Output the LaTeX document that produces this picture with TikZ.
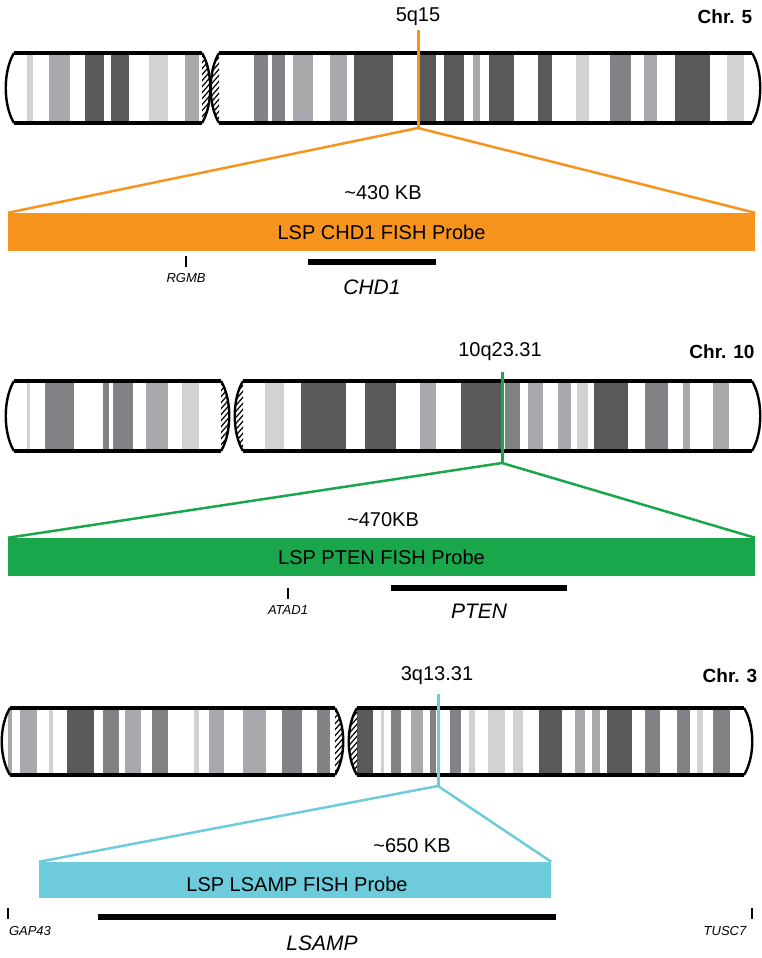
\documentclass[tikz,border=0pt]{standalone}
\usepackage{fontspec}
\setmainfont{Liberation Sans}
\definecolor{L}{HTML}{D1D2D4}
\definecolor{M}{HTML}{A7A9AC}
\definecolor{G}{HTML}{808285}
\definecolor{D}{HTML}{58595B}
\definecolor{orn}{HTML}{F7941D}
\definecolor{grn}{HTML}{1AA64A}
\definecolor{cyn}{HTML}{6DCBDC}
\newcommand\myhatch[3]{% top bot x
  \begin{scope}
  \clip (#3,#1) .. controls (#3+11,#1+18) and (#3+11,#2-18) .. (#3,#2) .. controls (#3-11,#2-18) and (#3-11,#1+18) .. (#3,#1);
  \foreach \k in {-60,-54,...,90} \draw[line width=1.2pt] (#3-10,#1+\k) -- (#3+10,#1+\k-20);
  \end{scope}}
\newcommand\myarm[5]{% top bot xa xb hatchside(0 none,1 right,2 left)
  \ifnum#5=1
    \begin{scope}\clip (#4,#1) .. controls (#4+11,#1+18) and (#4+11,#2-18) .. (#4,#2) -- cycle;
    \foreach \k in {-30,-24,...,90} \draw[line width=1.2pt] (#4-2,#1+\k) -- (#4+12,#1+\k-16);\end{scope}
  \fi
  \ifnum#5=2
    \begin{scope}\clip (#3,#1) .. controls (#3-11,#1+18) and (#3-11,#2-18) .. (#3,#2) -- cycle;
    \foreach \k in {-30,-24,...,90} \draw[line width=1.2pt] (#3-12,#1+\k) -- (#3+2,#1+\k-16);\end{scope}
  \fi
  \draw[line width=3.2pt] (#3,#1) -- (#4,#1) (#3,#2) -- (#4,#2);
  \draw[line width=2.4pt] (#3,#1) .. controls (#3-11,#1+18) and (#3-11,#2-18) .. (#3,#2);
  \draw[line width=2.4pt] (#4,#1) .. controls (#4+11,#1+18) and (#4+11,#2-18) .. (#4,#2);
}
\tikzset{lab/.style={font=\fontsize{20}{22}\selectfont,inner sep=0},
  chr/.style={font=\bfseries\fontsize{19}{21}\selectfont,inner sep=0},
  small/.style={font=\itshape\fontsize{13}{15}\selectfont,inner sep=0},
  gene/.style={font=\itshape\fontsize{21}{22}\selectfont,inner sep=0},
  bar/.style={line width=6pt},
  tick/.style={line width=1.2pt}}
\begin{document}
\begin{tikzpicture}[x=1pt,y=-1pt]
\useasboundingbox (0,0) rectangle (761,958);
% ---------- Chr 5
\foreach \a/\b/\c in {27/33/L,49/70/M,85/104/D,111/129/D,149/168/L,185/199/M,
 254/268/G,272/285/G,293/313/M,330/347/M,354/393/D,419/436/D,444/464/D,473/480/M,489/514/D,538/552/D,576/589/L,610/631/G,644/657/M,675/710/D,727/744/L}
 \fill[\c] (\a,53) rectangle (\b,123);
\myarm{53}{123}{14}{202}{1}
\myarm{53}{123}{219}{752}{2}
\node[lab] (l5) at (418,17) {5q15};
\node[chr] (c5) at (725,17) {Chr. 5};
\coordinate (t5) at (418,30); \coordinate (b5) at (418,128);
\node[fill=orn,minimum width=747pt,minimum height=38pt,inner sep=0] (p5) at (381.5,232) {};
\node[lab] at (p5) {LSP CHD1 FISH Probe};
\draw[orn,line width=3pt] (t5) -- (b5);
\draw[orn,line width=2.5pt] (p5.north west) -- (b5) -- (p5.north east);
\node[lab] (k5) at (383,193) {\char`~430 KB};
\coordinate (r5a) at (186,256); \coordinate (r5b) at (186,267);
\draw[tick] (r5a) -- (r5b);
\node[small] (rg) at (186,278) {RGMB};
\coordinate (h5a) at (308,262); \coordinate (h5b) at (436,262);
\draw[bar] (h5a) -- (h5b);
\node[gene] (chd) at (372,287) {CHD1};
% ---------- Chr 10
\foreach \a/\b/\c in {27/30/L,45/74/G,103/109/G,113/133/G,146/168/M,182/199/L,
 265/284/L,301/346/D,365/396/D,420/436/M,461/501/D,505/520/G,528/543/M,558/571/M,577/588/L,594/628/D,645/668/G,683/690/M,713/729/M}
 \fill[\c] (\a,381) rectangle (\b,451);
\myarm{381}{451}{14}{221}{1}
\myarm{381}{451}{243}{752}{2}
\node[lab] (l10) at (500,352) {10q23.31};
\node[chr] (c10) at (722,352) {Chr. 10};
\coordinate (t10) at (502,372); \coordinate (b10) at (502,463);
\node[fill=grn,minimum width=747pt,minimum height=38pt,inner sep=0] (p10) at (381.5,557) {};
\node[lab] at (p10) {LSP PTEN FISH Probe};
\draw[grn,line width=3pt] (t10) -- (b10);
\draw[grn,line width=2.5pt] (p10.north west) -- (b10) -- (p10.north east);
\node[lab] (k10) at (383,520) {\char`~470KB};
\coordinate (r10a) at (288,588); \coordinate (r10b) at (288,599);
\draw[tick] (r10a) -- (r10b);
\node[small] (at) at (288,610) {ATAD1};
\coordinate (h10a) at (391,588); \coordinate (h10b) at (567,588);
\draw[bar] (h10a) -- (h10b);
\node[gene] (pten) at (479,611) {PTEN};
% ---------- Chr 3
\foreach \a/\b/\c in {8/12/M,20/37/M,49/53/L,67/94/D,103/119/G,125/141/M,152/168/G,194/199/L,209/224/M,243/266/M,282/302/G,317/330/G,
 357/373/D,381/384/L,391/401/G,411/423/M,430/436/G,450/461/G,469/475/L,488/505/L,513/523/L,539/562/D,575/585/M,592/600/M,607/632/D,645/660/G,677/690/G,697/703/L,713/730/G}
 \fill[\c] (\a,708) rectangle (\b,775);
\myarm{708}{775}{10}{335}{1}
\myarm{708}{775}{357}{744}{2}
\node[lab] (l3) at (437,676) {3q13.31};
\node[chr] (c3) at (730,676) {Chr. 3};
\coordinate (t3) at (438,694); \coordinate (b3) at (438,786);
\node[fill=cyn,minimum width=512pt,minimum height=36pt,inner sep=0] (p3) at (295,880) {};
\node[lab] at (297,884) {LSP LSAMP FISH Probe};
\draw[cyn,line width=3pt] (t3) -- (b3);
\draw[cyn,line width=2.5pt] (p3.north west) -- (b3) -- (p3.north east);
\node[lab] (k3) at (412,846) {\char`~650 KB};
\coordinate (g1) at (8,908); \coordinate (g2) at (8,919);
\draw[tick] (g1) -- (g2);
\node[small] (gap) at (30,931) {GAP43};
\coordinate (u1) at (752,908); \coordinate (u2) at (752,919);
\draw[tick] (u1) -- (u2);
\node[small] (tusc) at (725,931) {TUSC7};
\coordinate (h3a) at (98,917); \coordinate (h3b) at (556,917);
\draw[bar] (h3a) -- (h3b);
\node[gene] (ls) at (322,943) {LSAMP};
\end{tikzpicture}
\end{document}
